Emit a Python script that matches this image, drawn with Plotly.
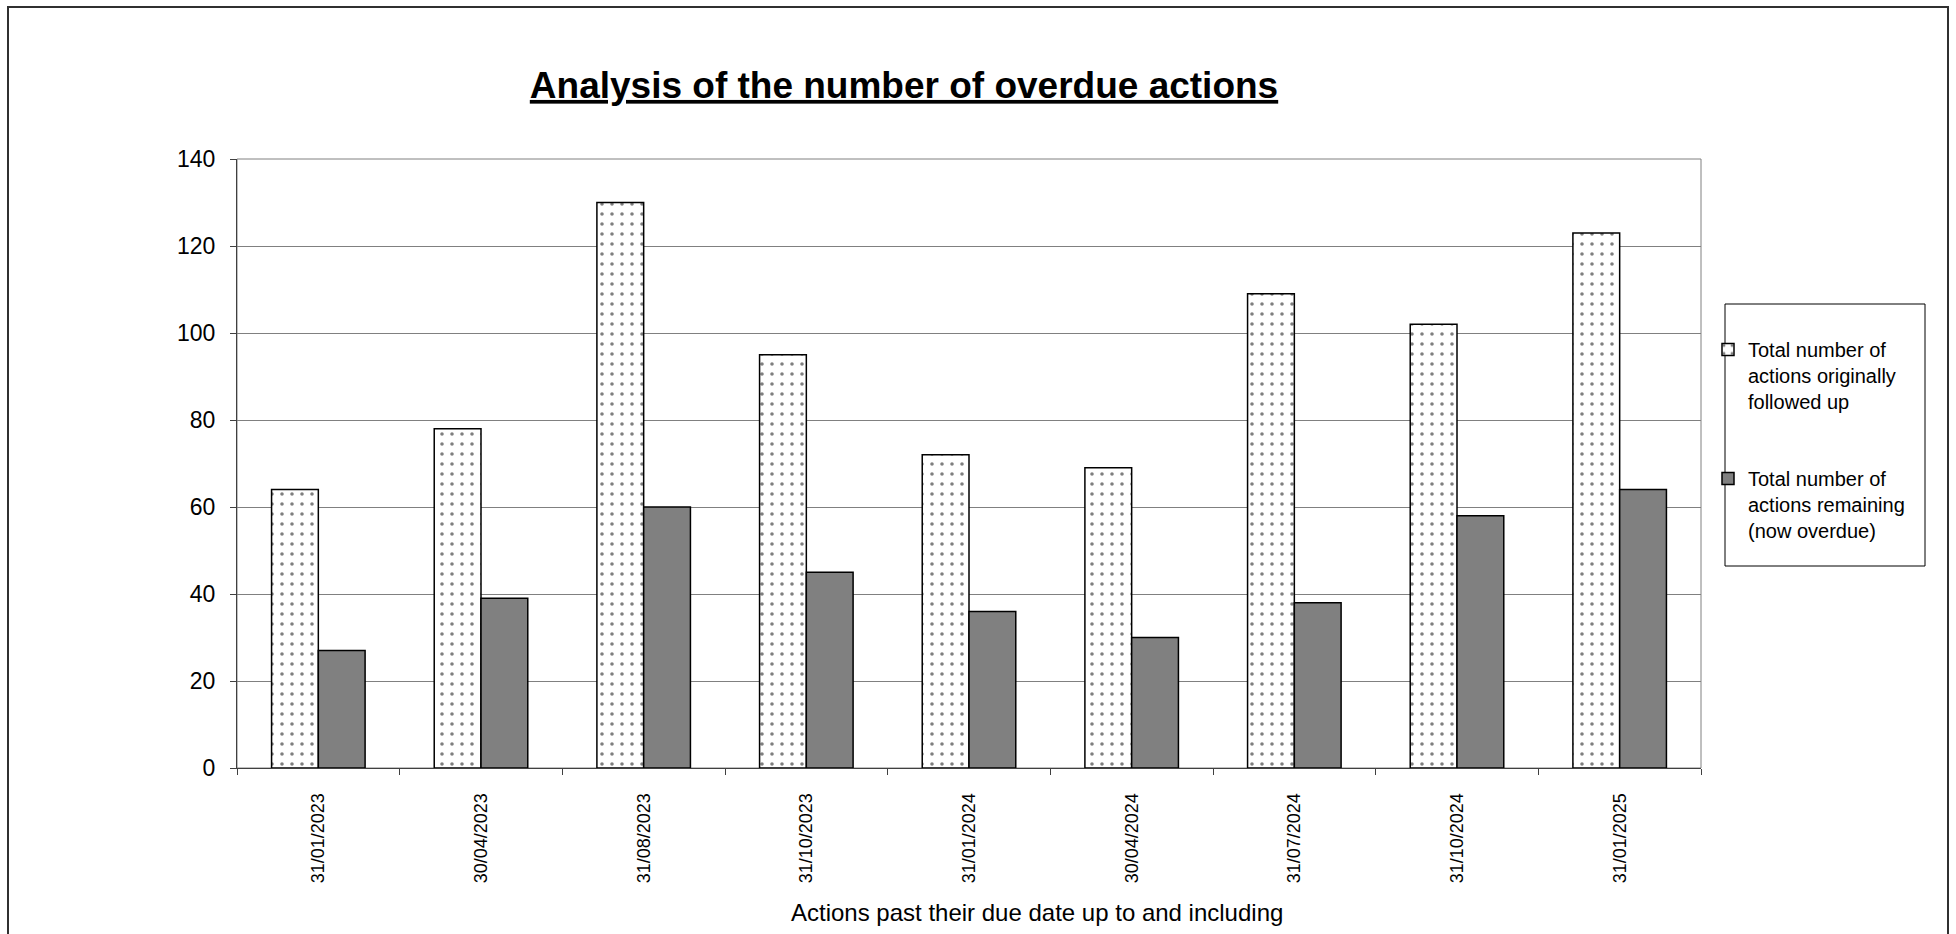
import plotly.graph_objects as go

# ---- data ----
categories = ["31/01/2023", "30/04/2023", "31/08/2023", "31/10/2023", "31/01/2024",
              "30/04/2024", "31/07/2024", "31/10/2024", "31/01/2025"]
followed_up = [64, 78, 130, 95, 72, 69, 109, 102, 123]
remaining = [27, 39, 60, 45, 36, 30, 38, 58, 64]
series_names = ["Total number of<br>actions originally<br>followed up",
                "Total number of<br>actions remaining<br>(now overdue)"]
y_ticks = [0, 20, 40, 60, 80, 100, 120, 140]

W, H = 1956, 934
L, R, T, B = 237, 1701, 159, 768
pw, ph = R - L, B - T


def px_x(x):
    return (x - L) / pw


def px_y(y):
    return (B - y) / ph


FONT = "Liberation Sans, Arial, sans-serif"

fig = go.Figure()
fig.add_trace(go.Bar(
    x=categories, y=followed_up, name=series_names[0], legendgroup="a",
    marker=dict(color="white", line=dict(color="black", width=1.5),
                pattern=dict(shape=".", size=10, solidity=0.1, fgcolor="black", bgcolor="white")),
))
fig.add_trace(go.Bar(
    x=categories, y=remaining, name=series_names[1], legendgroup="b",
    marker=dict(color="#808080", line=dict(color="black", width=1.5)),
))

fig.update_layout(
    width=W, height=H,
    margin=dict(l=L, r=W - R, t=T, b=H - B, pad=0),
    paper_bgcolor="white", plot_bgcolor="white",
    barmode="group", bargap=0.425, bargroupgap=0,
    font=dict(family=FONT, color="black"),
    title=dict(text="<b><u>Analysis of the number of overdue actions</u></b>",
               font=dict(size=37, family=FONT, color="black"),
               x=px_x(904), xref="paper", xanchor="center",
               y=1 - 85 / H, yref="container", yanchor="middle"),
    showlegend=True,
    legend=dict(x=px_x(1708), xanchor="left", y=px_y(330), yanchor="top",
                font=dict(size=20, family=FONT), valign="top",
                bgcolor="rgba(0,0,0,0)", borderwidth=0,
                tracegroupgap=48, traceorder="grouped"),
    xaxis=dict(type="category", showgrid=False, showline=True, linecolor="#404040", linewidth=1,
               ticks="outside", ticklen=6, tickcolor="#404040", tickson="boundaries",
               tickangle=-90, tickfont=dict(size=18, family=FONT), zeroline=False,
               ticklabelstandoff=17),
    yaxis=dict(range=[0, 140], tickvals=y_ticks, showgrid=True, gridcolor="#808080", gridwidth=1,
               showline=True, linecolor="#404040", linewidth=1, ticks="outside", ticklen=6,
               tickcolor="#404040", tickfont=dict(size=23, family=FONT), zeroline=False,
               ticklabelstandoff=10),
)

# x axis title
fig.add_annotation(text="Actions past their due date up to and including", xref="paper", yref="paper",
                   x=px_x(1037), y=px_y(912), xanchor="center", yanchor="middle",
                   showarrow=False, font=dict(size=24, family=FONT, color="black"))

# plot frame (top/right)
fig.add_shape(type="rect", xref="paper", yref="paper", x0=0, x1=1, y0=0, y1=1,
              line=dict(color="#808080", width=1), layer="below")
# legend box
fig.add_shape(type="rect", xref="paper", yref="paper", x0=px_x(1725), x1=px_x(1925),
              y0=px_y(566), y1=px_y(304), line=dict(color="black", width=1))
# outer chart border
fig.add_shape(type="rect", xref="paper", yref="paper", x0=px_x(8), x1=px_x(1948),
              y0=px_y(945), y1=px_y(7), line=dict(color="#303030", width=2))

fig.write_html("out.html")
